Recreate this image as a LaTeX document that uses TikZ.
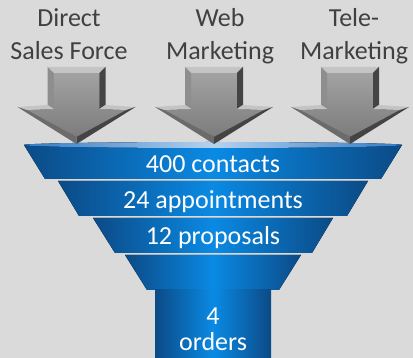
\documentclass[tikz,border=0pt]{standalone}
\usepackage{fontspec}
\setmainfont{Carlito}
\usepackage{tikz}
\usetikzlibrary{positioning}
\definecolor{backdrop}{HTML}{DADADA}
\definecolor{labeltext}{HTML}{404040}
\definecolor{funneledge}{HTML}{0B4A86}
\definecolor{funnelmid}{HTML}{0A8AE4}
\definecolor{rimedge}{HTML}{2F7BC8}
\definecolor{rimlight}{HTML}{B4D2EE}
\definecolor{armtop}{HTML}{A2A2A2}
\definecolor{armbottom}{HTML}{7C7C7C}
\definecolor{bevellight}{HTML}{C4C4C4}
\definecolor{bevelmid}{HTML}{8E8E8E}
\definecolor{beveldark}{HTML}{444444}

\begin{document}
\begin{tikzpicture}[x=1pt, y=-1pt,
    source/.style={font=\fontsize{26}{32.6}\selectfont, text=labeltext,
                   align=center, inner sep=0pt},
    stage/.style={font=\fontsize{26}{25.7}\selectfont, text=white,
                  align=center, inner sep=0pt},
    band/.style={left color=funneledge, right color=funneledge,
                 middle color=funnelmid},
    bevelarrow/.pic={
      % face
      \fill[top color=armtop, bottom color=armbottom]
        (-23,73) -- (23,73) -- (23,109) -- (50,110) -- (0,137)
        -- (-50,110) -- (-23,109) -- cycle;
      % bevels
      \fill[bevellight] (-29,67) -- (29,67) -- (23,73) -- (-23,73) -- cycle;
      \fill[bevelmid] (-29,67) -- (-23,73) -- (-23,109) -- (-29,105) -- cycle;
      \fill[beveldark] (29,67) -- (23,73) -- (23,109) -- (29,105) -- cycle;
      \fill[bevellight] (-29,105) -- (-59,107) -- (-50,110) -- (-23,109) -- cycle;
      \fill[bevellight] (29,105) -- (59,107) -- (50,110) -- (23,109) -- cycle;
      \fill[bevelmid!75!black] (-59,107) -- (0,144) -- (0,137) -- (-50,110) -- cycle;
      \fill[beveldark] (59,107) -- (0,144) -- (0,137) -- (50,110) -- cycle;
    }
  ]
    \fill[backdrop] (0,0) rectangle (413,358);
    \useasboundingbox (0,0) rectangle (413,358);

    % Funnel
    \fill[band] (24,145) -- (402,145) -- (381,179) -- (45,179) -- cycle;
    \fill[band] (58,181) -- (368,181) -- (347,216) -- (79,216) -- cycle;
    \fill[band] (93,218) -- (333,218) -- (312,253) -- (115,253) -- cycle;
    \fill[band] (125,255) -- (301,255) -- (279,290) -- (147,290) -- cycle;
    \fill[band] (155,289.5) rectangle (271,358);
    \fill[left color=rimedge, right color=rimedge, middle color=rimlight]
      (213,145) ellipse [x radius=189, y radius=3];

    % Sources (base = last line)
    \node[source, anchor=base] (direct) at (69,59.3)  {Direct\\Sales Force};
    \node[source, anchor=base] (web)    at (220,59.3) {Web\\Marketing};
    \node[source, anchor=base] (tele)   at (354,59.3) {Tele-\\Marketing};

    % Arrows
    \pic at (76.5,0) {bevelarrow};
    \pic at (214,0)  {bevelarrow};
    \pic at (350,0)  {bevelarrow};

    % Stages
    \node[stage, anchor=base] (contacts)  at (213,172.7) {400 contacts};
    \node[stage, anchor=base] (meetings)  at (213,208.3) {24 appointments};
    \node[stage, anchor=base] (proposals) at (213,245)   {12 proposals};
    \node[stage, anchor=base] (orders)    at (213,350.7) {4\\orders};
  \end{tikzpicture}
\end{document}
